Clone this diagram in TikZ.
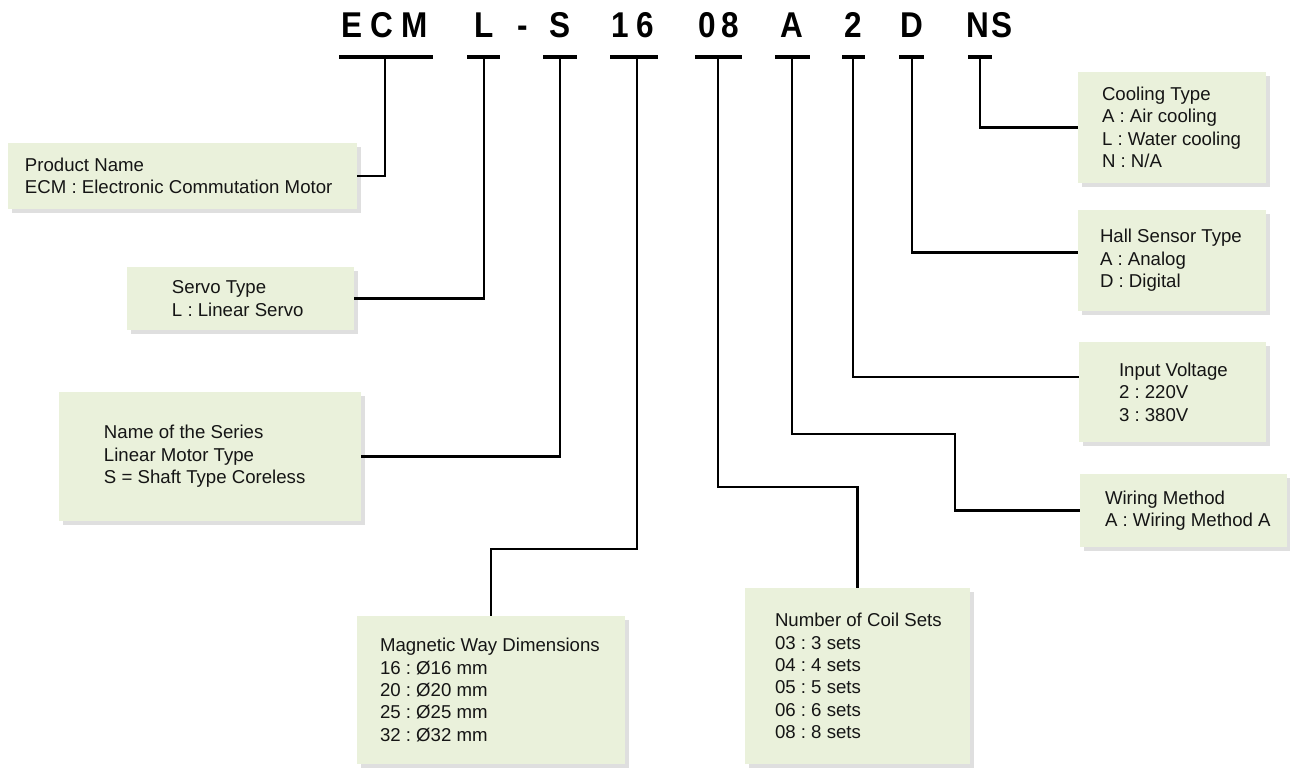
\documentclass[tikz,border=0pt]{standalone}
\usepackage{fontspec}
\setmainfont{Liberation Sans}
\newfontfamily\codefont[FakeStretch=0.88]{Liberation Sans}
\usepackage{xcolor}
\definecolor{BoxGreen}{HTML}{EAF1DB}
\definecolor{InkBlack}{HTML}{151515}
\usetikzlibrary{positioning, fit, calc, shadows}
\frenchspacing
\tikzset{
  % Box styles
  infobox/.style={rectangle, fill=BoxGreen, inner sep=0pt, drop shadow={shadow xshift=2pt, shadow yshift=-2pt, opacity=0.25}},
  infotext/.style={align=left, inner sep=0pt, font=\fontsize{10.6}{12.75}\selectfont, text=InkBlack},
  codechar/.style={anchor=base, inner sep=0pt, font=\codefont\bfseries\fontsize{20.4}{21}\selectfont},
  % Line styles
  bar/.style={line width=2.3pt},
  wire/.style={line width=1.4pt, line join=miter}
}
\begin{document}
\begin{tikzpicture}[x=0.02cm, y=-0.02cm]
  \useasboundingbox (0,0) rectangle (1290,767);

  % Model code letters
  \foreach \ch/\x [count=\i] in {E/352, C/382, M/415, L/484, -/523, S/560, 1/620, 6/645, 0/707, 8/730, A/792, 2/853, D/912, N/978, S/1002}
    \node[codechar] (c\i) at (\x,38) {\ch};

  % Underlines and their tick points
  \foreach \name/\l/\m/\r in {ecm/339/385/433, srv/467/484/500, ser/543/560/577, dim/610/637/658, coil/695/718/742, wir/775/792/810, volt/842/853/865, hall/899/912/924, cool/968/980/992} {
    \draw[bar] (\l,57) -- (\r,57);
    \coordinate (t-\name) at (\m,57);
  }

  % Left side boxes
  \node[infobox, fit={(8,143) (357,209)}] (prod) {};
  \node[infotext, right=0.34cm of prod.west] (prod-t) {Product Name\\ECM : Electronic Commutation Motor};

  \node[infobox, fit={(127,267) (354,330)}] (servo) {};
  \node[infotext, right=0.9cm of servo.west] (servo-t) {Servo Type\\L : Linear Servo};

  \node[infobox, fit={(59,392) (361,521)}] (series) {};
  \node[infotext, right=0.9cm of series.west] (series-t) {Name of the Series\\Linear Motor Type\\S = Shaft Type Coreless};

  % Bottom boxes
  \node[infobox, fit={(357,616) (625,764)}] (mag) {};
  \node[infotext, right=0.46cm of mag.west] (mag-t) {Magnetic Way Dimensions\\16 : Ø16 mm\\20 : Ø20 mm\\25 : Ø25 mm\\32 : Ø32 mm};

  \node[infobox, fit={(745,588) (970,764)}] (coilbox) {};
  \node[infotext, right=0.6cm of coilbox.west] (coil-t) {Number of Coil Sets\\03 : 3 sets\\04 : 4 sets\\05 : 5 sets\\06 : 6 sets\\08 : 8 sets};

  % Right side boxes
  \node[infobox, fit={(1078,72) (1266,183)}] (coolbox) {};
  \node[infotext, right=0.48cm of coolbox.west] (cool-t) {Cooling Type\\A : Air cooling\\L : Water cooling\\N : N/A};

  \node[infobox, fit={(1078,210) (1266,311)}] (hallbox) {};
  \node[infotext, right=0.44cm of hallbox.west] (hall-t) {Hall Sensor Type\\A : Analog\\D : Digital};

  \node[infobox, fit={(1079,342) (1266,442)}] (voltbox) {};
  \node[infotext, right=0.8cm of voltbox.west] (volt-t) {Input Voltage\\2 : 220V\\3 : 380V};

  \node[infobox, fit={(1080,474) (1287,547)}] (wirebox) {};
  \node[infotext, right=0.5cm of wirebox.west] (wire-t) {Wiring Method\\A : Wiring Method A};

  % Connectors
  \draw[wire] (t-ecm) |- (prod.east);
  \draw[wire] (t-srv) |- (servo.east);
  \draw[wire] (t-ser) |- (series.east);
  \draw[wire] (t-dim) -- ++(0,492) -| (mag.north);
  \draw[wire] (t-coil) -- ++(0,430) -| (coilbox.north);
  \draw[wire] (t-wir) -- ++(0,377) -- ++(163,0) |- (wirebox.west);
  \draw[wire] (t-volt) |- ($(voltbox.west)+(0,-15)$);
  \draw[wire] (t-hall) |- ($(hallbox.west)+(0,-8)$);
  \draw[wire] (t-cool) |- (coolbox.west);
\end{tikzpicture}
\end{document}
